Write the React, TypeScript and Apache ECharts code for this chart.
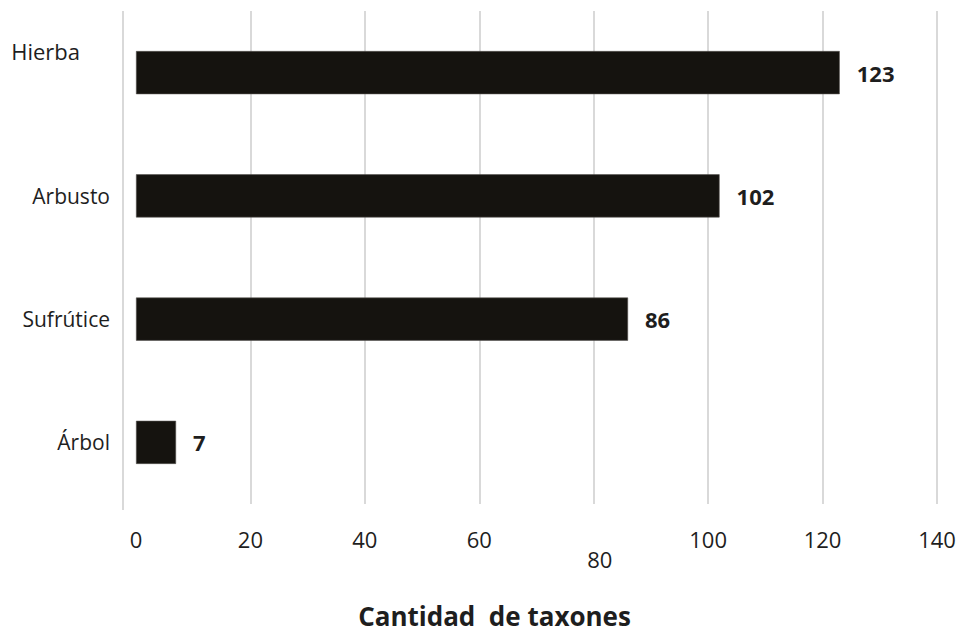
import React, { useEffect, useRef } from "react";
import * as echarts from "echarts";

// Growth forms and number of taxa in each
const categories: string[] = ["Hierba", "Arbusto", "Sufrútice", "Árbol"];
const taxaCounts: number[] = [123, 102, 86, 7];
const axisTitle = "Cantidad  de taxones";

const FONT = "'Open Sans', 'Noto Sans', sans-serif";
const TEXT = "#1e1e1e";
const GRID_LINE = "#d9d9d9";

export default function App() {
  const ref = useRef<HTMLDivElement>(null);

  useEffect(() => {
    if (!ref.current) return;
    const chart = echarts.init(ref.current, null, { renderer: "svg" });
    chart.setOption({
      animation: false,
      backgroundColor: "#ffffff",
      textStyle: { fontFamily: FONT },
      grid: { left: 136, right: 22, top: 11, bottom: 124, containLabel: false },
      // left border of the plot, set a little apart from the zero of the scale
      graphic: [
        {
          type: "line",
          shape: { x1: 123, y1: 11, x2: 123, y2: 510 },
          style: { stroke: GRID_LINE, lineWidth: 2 },
          silent: true,
        },
      ],
      xAxis: {
        type: "value",
        min: 0,
        max: 140,
        interval: 20,
        axisLine: { show: false },
        axisTick: { show: false },
        splitLine: { show: true, showMinLine: false, lineStyle: { color: GRID_LINE, width: 2 } },
        axisLabel: {
          margin: 24,
          fontSize: 22,
          color: TEXT,
          fontFamily: FONT,
          formatter: (v: number) => (v === 80 ? "{low|80}" : String(v)),
          rich: {
            low: { fontSize: 22, color: TEXT, fontFamily: FONT, padding: [20, 0, 0, 12] },
          },
        },
        name: axisTitle,
        nameLocation: "middle",
        nameGap: 99,
        nameTextStyle: {
          fontSize: 26,
          fontWeight: "bold",
          color: TEXT,
          fontFamily: FONT,
          padding: [0, 84, 0, 0],
        },
      },
      yAxis: {
        type: "category",
        data: categories,
        inverse: true,
        axisLine: { show: false },
        axisTick: { show: false },
        axisLabel: {
          margin: 26,
          fontSize: 21,
          color: TEXT,
          fontFamily: FONT,
          formatter: (v: string) => (v === "Hierba" ? `{top|${v}}` : v),
          rich: {
            top: { fontSize: 22, color: TEXT, fontFamily: FONT, padding: [0, 30, 44, 0] },
          },
        },
      },
      series: [
        {
          type: "bar",
          data: taxaCounts,
          barWidth: "35%",
          itemStyle: { color: "#15130f", borderColor: "#55534f", borderWidth: 0.6 },
          label: {
            show: true,
            position: "right",
            distance: 17,
            fontSize: 22,
            fontWeight: "bold",
            color: TEXT,
            fontFamily: FONT,
          },
        },
      ],
    });
    return () => chart.dispose();
  }, []);

  return <div ref={ref} style={{ width: 959, height: 634, position: "absolute", left: 0, top: 0 }} />;
}
